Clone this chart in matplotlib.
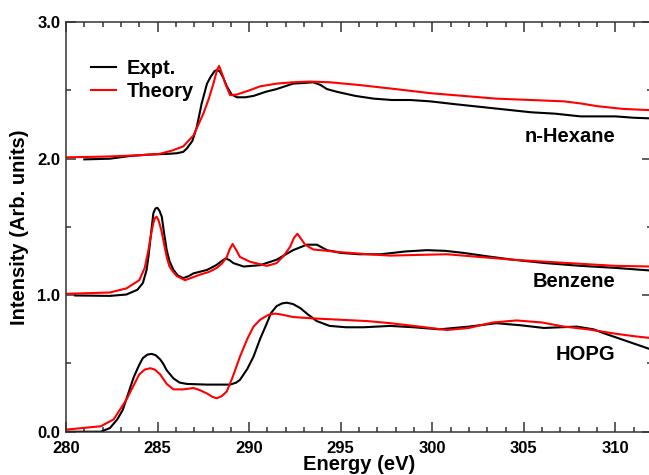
import matplotlib
matplotlib.use("Agg")
import matplotlib.pyplot as plt
from matplotlib.ticker import MultipleLocator

plt.rcParams['font.family'] = ['Liberation Sans', 'DejaVu Sans']
plt.rcParams['font.weight'] = 'bold'

# ---- data ----
hex_expt_E = [281.0, 282.4, 283.5, 284.5, 285.5, 286.05, 286.4, 286.6, 286.9, 287.14, 287.4, 287.7, 287.9, 288.1,
              288.23, 288.4, 288.6, 288.78, 289.05, 289.33, 289.8, 290.24, 290.9, 291.5, 292.4, 293.0, 293.5,
              293.9, 294.25, 294.8, 295.8, 296.8, 297.8, 298.8, 299.9, 301.2, 302.6, 304.0, 305.4, 306.7, 308.1,
              310.0, 311.0, 312.0]
hex_expt_I = [1.995, 2.00, 2.02, 2.03, 2.035, 2.04, 2.05, 2.075, 2.13, 2.23, 2.40, 2.55, 2.60, 2.64,
              2.65, 2.64, 2.59, 2.53, 2.47, 2.45, 2.45, 2.46, 2.49, 2.51, 2.55, 2.555, 2.56,
              2.54, 2.51, 2.49, 2.46, 2.44, 2.43, 2.43, 2.42, 2.40, 2.38, 2.36, 2.34, 2.33, 2.31,
              2.31, 2.30, 2.295]

hex_theo_E = [280.0, 282.0, 284.0, 285.1, 285.8, 286.4, 286.96, 287.5, 287.8, 288.05, 288.25, 288.36, 288.5,
              288.7, 288.96, 289.33, 290.0, 290.6, 291.5, 292.4, 293.3, 294.4, 296.0, 298.0, 299.9, 301.7,
              303.5, 305.4, 307.2, 308.1, 309.0, 310.4, 312.0]
hex_theo_I = [2.01, 2.015, 2.025, 2.035, 2.06, 2.09, 2.17, 2.33, 2.44, 2.55, 2.65, 2.68, 2.63,
              2.55, 2.465, 2.47, 2.50, 2.53, 2.55, 2.56, 2.565, 2.56, 2.54, 2.51, 2.48, 2.46,
              2.44, 2.43, 2.42, 2.405, 2.385, 2.365, 2.355]

ben_expt_E = [280.5, 282.4, 283.3, 283.9, 284.2, 284.4, 284.5, 284.6, 284.77, 284.88, 284.99, 285.1, 285.23,
              285.35, 285.5, 285.65, 285.87, 286.1, 286.4, 286.7, 286.96, 287.7, 288.2, 288.5, 288.73, 288.95,
              289.14, 289.7, 290.6, 291.5, 292.4, 293.15, 293.7, 294.25, 295.0, 296.0, 297.2, 298.5, 299.7,
              300.7, 301.7, 303.0, 304.4, 306.2, 308.1, 310.0, 312.0]
ben_expt_I = [0.998, 0.995, 1.005, 1.04, 1.09, 1.185, 1.28, 1.40, 1.60, 1.635, 1.64, 1.62, 1.575,
              1.46, 1.33, 1.25, 1.185, 1.145, 1.125, 1.14, 1.16, 1.185, 1.22, 1.25, 1.27, 1.255,
              1.235, 1.21, 1.22, 1.26, 1.33, 1.37, 1.37, 1.33, 1.31, 1.30, 1.30, 1.32, 1.33,
              1.325, 1.31, 1.285, 1.26, 1.235, 1.215, 1.20, 1.18]

ben_theo_E = [280.0, 282.4, 283.3, 284.0, 284.3, 284.5, 284.65, 284.77, 284.86, 284.95, 285.05, 285.2, 285.35,
              285.5, 285.65, 285.8, 286.05, 286.5, 287.3, 287.8, 288.23, 288.5, 288.78, 288.95, 289.1, 289.3,
              289.5, 290.05, 290.97, 291.5, 291.9, 292.24, 292.45, 292.64, 292.85, 293.06, 293.5, 295.0, 296.5,
              297.7, 299.2, 300.8, 302.6, 304.4, 306.2, 308.1, 310.0, 312.0]
ben_theo_I = [1.01, 1.02, 1.05, 1.11, 1.20, 1.33, 1.45, 1.53, 1.565, 1.575, 1.55, 1.48, 1.38,
              1.28, 1.21, 1.18, 1.14, 1.11, 1.15, 1.17, 1.20, 1.23, 1.28, 1.34, 1.375, 1.33,
              1.28, 1.245, 1.215, 1.235, 1.29, 1.355, 1.42, 1.45, 1.41, 1.37, 1.335, 1.315, 1.30,
              1.29, 1.295, 1.30, 1.28, 1.26, 1.245, 1.23, 1.215, 1.21]

hopg_expt_E = [280.0, 281.9, 282.4, 282.8, 283.1, 283.4, 283.7, 284.0, 284.2, 284.45, 284.68, 284.9, 285.14,
               285.3, 285.5, 285.87, 286.2, 286.6, 287.7, 288.96, 289.3, 289.5, 289.9, 290.24, 290.6, 290.97,
               291.2, 291.5, 291.8, 292.06, 292.4, 292.8, 293.2, 293.7, 294.4, 295.3, 296.25, 297.7, 299.0,
               300.4, 302.0, 303.5, 304.8, 306.1, 307.9, 308.8, 309.4, 310.7, 312.0]
hopg_expt_I = [0.0, 0.0, 0.027, 0.09, 0.16, 0.28, 0.40, 0.49, 0.54, 0.565, 0.57, 0.56, 0.53,
               0.50, 0.45, 0.39, 0.36, 0.35, 0.345, 0.345, 0.36, 0.38, 0.46, 0.55, 0.68, 0.795,
               0.87, 0.92, 0.94, 0.945, 0.935, 0.905, 0.86, 0.81, 0.775, 0.765, 0.765, 0.775, 0.765,
               0.75, 0.77, 0.795, 0.78, 0.76, 0.77, 0.75, 0.72, 0.66, 0.60]

hopg_theo_E = [280.0, 281.9, 282.6, 283.3, 284.0, 284.3, 284.6, 284.85, 285.14, 285.5, 285.87, 286.4, 286.96,
               287.3, 287.7, 288.0, 288.23, 288.5, 288.78, 289.1, 289.5, 289.9, 290.24, 290.6, 290.97, 291.15,
               291.4, 291.7, 292.4, 293.5, 295.0, 296.5, 297.7, 299.3, 300.8, 302.0, 303.3, 304.6, 306.0,
               307.2, 308.5, 309.9, 311.0, 312.0]
hopg_theo_I = [0.015, 0.04, 0.09, 0.235, 0.42, 0.455, 0.465, 0.455, 0.42, 0.35, 0.31, 0.31, 0.32,
               0.305, 0.28, 0.255, 0.245, 0.26, 0.295, 0.40, 0.55, 0.68, 0.77, 0.82, 0.85, 0.86,
               0.865, 0.86, 0.84, 0.83, 0.82, 0.81, 0.795, 0.77, 0.745, 0.76, 0.80, 0.815, 0.80,
               0.77, 0.75, 0.72, 0.70, 0.685]

sample_names = ["n-Hexane", "Benzene", "HOPG"]
sample_label_y = [2.16, 1.097, 0.562]
legend_labels = ["Expt.", "Theory"]
x_ticks = [280, 285, 290, 295, 300, 305, 310]
y_ticks = [0.0, 1.0, 2.0, 3.0]

# ---- figure ----
W, H = 649, 475
fig = plt.figure(figsize=(W / 100, H / 100), dpi=100)
ax = fig.add_axes([66 / W, (H - 431.7) / H, 586 / W, 409.5 / H])

lw = 1.5
ax.plot(hex_expt_E, hex_expt_I, color='black', lw=lw, label=legend_labels[0])
ax.plot(hex_theo_E, hex_theo_I, color='red', lw=lw, label=legend_labels[1])
ax.plot(ben_expt_E, ben_expt_I, color='black', lw=lw)
ax.plot(ben_theo_E, ben_theo_I, color='red', lw=lw)
ax.plot(hopg_expt_E, hopg_expt_I, color='black', lw=lw)
ax.plot(hopg_theo_E, hopg_theo_I, color='red', lw=lw)

ax.set_xlim(280, 312)
ax.set_ylim(0, 3)
ax.set_xticks(x_ticks)
ax.set_xticklabels([str(v) for v in x_ticks])
ax.set_yticks(y_ticks)
ax.set_yticklabels([f"{v:.1f}" for v in y_ticks])
ax.xaxis.set_minor_locator(MultipleLocator(1))
ax.yaxis.set_minor_locator(MultipleLocator(0.5))
ax.tick_params(which='both', direction='in', top=True, right=True, colors='#333333',
               labelcolor='black', width=1.1)
ax.tick_params(which='major', length=7.5, labelsize=12)
ax.tick_params(axis='x', which='major', pad=7)
ax.tick_params(axis='y', which='major', pad=4)
ax.tick_params(which='minor', length=3.8)
for lab in ax.get_xticklabels() + ax.get_yticklabels():
    lab.set_fontweight('bold')
for s in ax.spines.values():
    s.set_linewidth(1.1)
    s.set_color('#333333')

ax.set_xlabel("Energy (eV)", fontsize=14.5, fontweight='bold', labelpad=-1)
ax.set_ylabel("Intensity (Arb. units)", fontsize=14.5, fontweight='bold', labelpad=6)

for name, yv in zip(sample_names, sample_label_y):
    ax.text(310.0, yv, name, ha='right', va='center', fontsize=14.5, fontweight='bold')

leg = ax.legend(loc='upper left', bbox_to_anchor=(0.042, 0.91), frameon=False,
                fontsize=14.5, handlelength=1.25, handletextpad=0.55, labelspacing=0.22,
                borderpad=0, borderaxespad=0)
for t in leg.get_texts():
    t.set_fontweight('bold')

fig.savefig("out.png", dpi=100)
